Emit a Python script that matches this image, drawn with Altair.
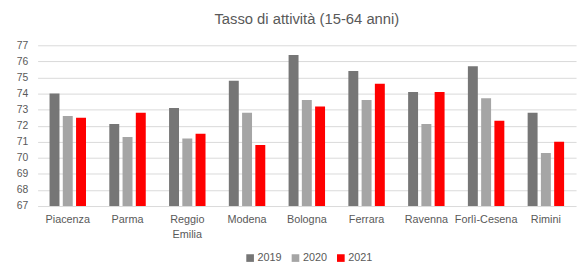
import altair as alt
import pandas as pd

provinces = ["Piacenza", "Parma", "Reggio Emilia", "Modena", "Bologna",
             "Ferrara", "Ravenna", "Forlì-Cesena", "Rimini"]
years = ["2019", "2020", "2021"]
v2019 = [74.0, 72.1, 73.1, 74.8, 76.4, 75.4, 74.1, 75.7, 72.8]
v2020 = [72.6, 71.3, 71.2, 72.8, 73.6, 73.6, 72.1, 73.7, 70.3]
v2021 = [72.5, 72.8, 71.5, 70.8, 73.2, 74.6, 74.1, 72.3, 71.0]
y_ticks = list(range(67, 78))
colors = ["#767676", "#a5a5a5", "#ff0000"]

rows = []
for yr, vals in zip(years, [v2019, v2020, v2021]):
    for p, v in zip(provinces, vals):
        rows.append({"Provincia": p, "Anno": yr, "Valore": v})
df = pd.DataFrame(rows)

font = "Liberation Sans"

chart = alt.Chart(df).mark_bar(clip=True).encode(
    x=alt.X("Provincia:N", sort=provinces,
            scale=alt.Scale(paddingInner=0.39, paddingOuter=0.2),
            axis=alt.Axis(title=None, labelAngle=0, domain=False, ticks=False,
                          labelExpr="split(datum.label, ' ')",
                          labelFont=font, labelFontSize=11, labelColor="#595959",
                          labelPadding=8, labelLineHeight=15)),
    xOffset=alt.XOffset("Anno:N", sort=years, scale=alt.Scale(paddingInner=0.25)),
    y=alt.Y("Valore:Q", scale=alt.Scale(domain=[67, 77], nice=False, zero=False),
            axis=alt.Axis(title=None, values=y_ticks, labelOverlap=False,
                          domain=False, ticks=False, labelFont=font, labelFontSize=10.5,
                          labelColor="#595959", labelPadding=10,
                          gridColor="#d9d9d9", gridWidth=1)),
    color=alt.Color("Anno:N", sort=years,
                    scale=alt.Scale(domain=years, range=colors),
                    legend=alt.Legend(title=None, orient="none", direction="horizontal",
                                      legendX=210, legendY=210,
                                      symbolType="square", symbolSize=60,
                                      symbolStrokeWidth=0, symbolOffset=0,
                                      labelFont=font, labelFontSize=11,
                                      labelColor="#595959", columnPadding=8,
                                      labelOffset=2)),
).properties(
    width=546,
    height=163,
    title=alt.Title("Tasso di attività (15-64 anni)", font=font, fontSize=15,
                    fontWeight="normal", color="#595959", offset=14, anchor="middle"),
    autosize=alt.AutoSizeParams(type="none"),
    padding={"left": 30, "top": 36, "right": 4, "bottom": 60},
).configure_view(stroke=None)

chart.save("out.html", embed_options={"renderer": "svg", "actions": False})
